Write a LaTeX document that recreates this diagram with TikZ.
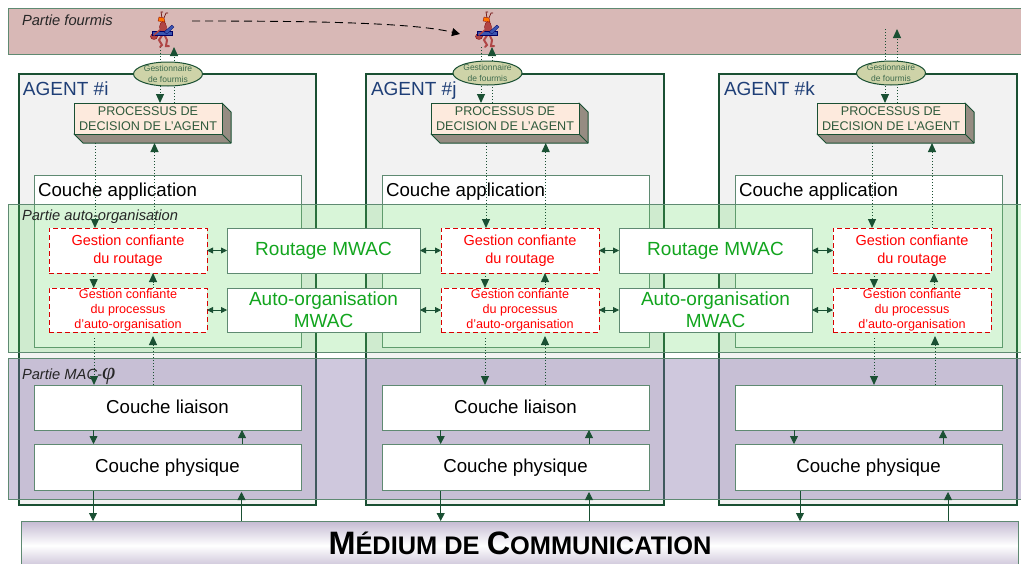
\documentclass[tikz,border=0pt]{standalone}
\usepackage{fontspec}
\setmainfont{Liberation Sans}
\newfontfamily\phifont{Liberation Serif}
\usetikzlibrary{arrows.meta,shapes.geometric}
\definecolor{dkg}{HTML}{1A5033}
\definecolor{bdg}{HTML}{5F8A72}
\definecolor{agentblue}{HTML}{1F3F77}
\definecolor{rosebg}{HTML}{D8B8B6}
\definecolor{procfill}{HTML}{FDEADD}
\definecolor{procside}{HTML}{968C82}
\definecolor{ellfill}{HTML}{CED3A8}
\definecolor{ellt}{HTML}{3F6B4E}
\definecolor{procT}{HTML}{2F5A3C}
\definecolor{mwac}{HTML}{12A51E}
\definecolor{grn}{HTML}{60D860}
\definecolor{pur}{HTML}{7F6AA5}
\definecolor{medc}{HTML}{C4BAD2}
\definecolor{antr}{HTML}{B04545}
\definecolor{antb}{HTML}{3A55B0}
\tikzset{
 x=1pt,y=-1pt,
 every node/.style={inner sep=0pt,outer sep=0pt,align=center},
 band/.style={draw=bdg,line width=1pt},
 agentbox/.style={draw=dkg,line width=1.6pt,fill=black!5},
 lay/.style={draw=bdg,line width=1pt,fill=white,minimum width=267pt,minimum height=45pt,text=black,text height=13pt,text depth=2pt,font=\fontsize{18.7}{21}\selectfont},
 gest/.style={draw=red!85!black,dash pattern=on 5pt off 3pt,line width=1pt,fill=white,minimum width=158pt,minimum height=45pt,text=red},
 mw/.style={draw=bdg,line width=1pt,fill=white,minimum width=193pt,minimum height=45pt,text=mwac,font=\fontsize{19}{22}\selectfont},
 proc/.style={draw=dkg,line width=1pt,fill=procfill,minimum width=148pt,minimum height=31pt,text=procT,font=\fontsize{12.6}{15}\selectfont},
 ges/.style={draw=dkg,line width=1pt,fill=ellfill,ellipse,minimum width=69pt,minimum height=24pt,text=ellt,font=\fontsize{8.5}{10.5}\selectfont},
 ar/.style={-{Triangle[length=8pt,width=8pt]},draw=dkg,line width=0.8pt},
 dar/.style={-{Triangle[length=9pt,width=8pt]},draw=dkg,dotted,line width=1pt},
 sm/.style={{Triangle[length=6pt,width=6pt]}-{Triangle[length=6pt,width=6pt]},draw=dkg,line width=.8pt},
 lbl/.style={anchor=base west,font=\fontsize{14.7}{16}\selectfont\itshape,text=black!85},
 agt/.style={anchor=base west,text=agentblue,font=\fontsize{19}{21}\selectfont},
 capp/.style={anchor=base west,font=\fontsize{18.7}{21}\selectfont},
}
\newcommand{\antfig}[2]{%
 \begin{scope}[shift={(#1,#2)}]
  \draw[black!60!red,line width=.6pt] (0,-14)--(-1,-20)--(1,-20) (2,-14)--(4,-19)--(6,-19);
  \draw[antr,line width=2pt,line cap=round] (1,2)--(-3,8)--(0,13)--(-2,15) (2,2)--(5,8)--(4,14)--(7,14);
  \fill[antr,draw=black!50!red,line width=.3pt] (1,-5) ellipse (3.5 and 5.5);
  \fill[antr,draw=black!50!red,line width=.3pt] (-8,4.5) ellipse (3.5 and 3);
  \fill[antr] (2,-1) ellipse (3.5 and 4);
  \fill[orange!90!red,draw=black!50!red,line width=.3pt] (-4,-11) -- (-3,-15) -- (2,-14) -- (3,-10) -- cycle;
  \fill[antb,draw=blue!40!black,line width=.3pt] (-10,-1) rectangle (10,3);
  \fill[antb,draw=blue!40!black,line width=.3pt] (2,0)--(10,-7)--(12,-5)--(5,2)--cycle;
  \draw[antr,line width=1.5pt,line cap=round] (-1,-3)--(-8,3);
 \end{scope}}
\begin{document}
\begin{tikzpicture}
\useasboundingbox (0,0) rectangle (1021,563);
\fill[white] (0,0) rectangle (1021,563);
% top band
\draw[band,fill=rosebg] (1030,8) -- (8.5,8) -- (8.5,54) -- (1030,54);
\node[lbl] (pf) at (22,25) {Partie fourmis};
% agents
\draw[agentbox] (19,74) rectangle (316,505);
\draw[agentbox] (366,74) rectangle (664,505);
\draw[agentbox] (719,74) rectangle (1017,505);
\node[agt] (ai) at (23,95) {AGENT \#i};
\node[agt] (aj) at (371,95) {AGENT \#j};
\node[agt] (ak) at (724,95) {AGENT \#k};
% application layers
\foreach \lx in {34,382,735}{
  \draw[draw=bdg,line width=1pt,fill=white] (\lx,175) rectangle ++(267,172.5);
}
\node[capp] (ca1) at (38,196) {Couche application};
\node[capp] (ca2) at (386,196) {Couche application};
\node[capp] (ca3) at (739,196) {Couche application};
% translucent bands
\draw[band,fill=grn,fill opacity=.24] (1030,204) -- (8.5,204) -- (8.5,352) -- (1030,352);
\draw[band,fill=pur,fill opacity=.37] (1030,358) -- (8.5,358) -- (8.5,499.5) -- (1030,499.5);
\node[lbl] (pa) at (22,220.5) {Partie auto-organisation};
\node[lbl] (pm) at (22,379) {Partie MAC-{\phifont\itshape\fontsize{24}{24}\selectfont φ}};
% processus
\foreach \n/\px in {1/74,2/431,3/817}{
  \draw[dkg,line width=1pt,fill=procside,line join=round] (\px,134) -- (\px+148,134) -- (\px+148,103) -- (\px+157,112) -- (\px+157,143) -- (\px+9,143) -- cycle;
  \draw[dkg,line width=1pt] (\px+148,134) -- (\px+157,143);
  \node[proc,anchor=north west] (p\n) at (\px,103) {PROCESSUS DE\\DECISION DE L’AGENT};
}
% boxes
\foreach \n/\gx in {1/49,2/441,3/833}{
  \node[gest,anchor=north west,font=\fontsize{14.5}{17.5}\selectfont] (gr\n) at (\gx,228) {Gestion confiante\\du routage};
  \node[gest,anchor=north west,minimum height=44pt,font=\fontsize{12.6}{15}\selectfont] (gp\n) at (\gx,288) {Gestion confiante\\du processus\\d’auto-organisation};
}
\foreach \n/\mx in {1/227,2/619}{
  \node[mw,anchor=north west] (mr\n) at (\mx,228) {Routage MWAC};
  \node[mw,anchor=north west,minimum height=44pt] (ma\n) at (\mx,288) {Auto-organisation\\MWAC};
}
\node[lay,anchor=north west] (l1) at (34,385) {Couche liaison};
\node[lay,anchor=north west] (l2) at (382,385) {Couche liaison};
\node[lay,anchor=north west] (l3) at (735,385) {};
\node[lay,anchor=north west,minimum height=46pt,text depth=1.5pt] (f1) at (34,444) {Couche physique};
\node[lay,anchor=north west,minimum height=46pt,text depth=1.5pt] (f2) at (382,444) {Couche physique};
\node[lay,anchor=north west,minimum height=46pt,text depth=1.5pt] (f3) at (735,444) {Couche physique};
% medium
\draw[draw=bdg,line width=1pt,top color=medc,bottom color=medc,middle color=white] (21,521) rectangle (1018,570);
\node[font=\bfseries,text=black] (med) at (520,543) {\fontsize{32.4}{32}\selectfont M\fontsize{25.4}{32}\selectfont ÉDIUM DE \fontsize{32.4}{32}\selectfont C\fontsize{25.4}{32}\selectfont OMMUNICATION};
% connectors above processus (under the ants)
\coordinate (ant1) at (163,47);
\coordinate (ant2) at (487,47);
\coordinate (free3) at (891,29);
\coordinate (dst) at (460,34);
\coordinate (dsa) at (192,21);
\foreach \n/\da/\ua/\st in {1/160/174/ant1,2/481/492/ant2,3/885/897/free3}{
  \draw[dar] (\st -| \da,0) -- (p\n.north -| \da,0);
  \draw[dar] (p\n.north -| \ua,0) -- (\st -| \ua,0);
}
% ants
\antfig{162}{32}
\antfig{487}{32}
\draw[black,line width=.9pt,dash pattern=on 8pt off 5pt,-{Triangle[length=8pt,width=8pt]}] (dsa) .. controls (300,21) and (410,22) .. (dst);
\node[ges] (e1) at (168,74) {Gestionnaire\\de fourmis};
\node[ges] (e2) at (487.5,73) {Gestionnaire\\de fourmis};
\node[ges] (e3) at (891,73) {Gestionnaire\\de fourmis};
% vertical links
\foreach \n/\a/\b/\c/\d/\e/\f in {1/95/154.5/93.7/153/94/153,2/486/545.7/485/545/485/545,3/872/932/874/934/874/935}{
  \draw[dar] ([yshift=-9pt]p\n.south -| \a,0) -- (gr\n.north -| \a,0);
  \draw[dar] (gr\n.north -| \b,0) -- ([yshift=-9pt]p\n.south -| \b,0);
  \draw[dar] (gr\n.south -| \c,0) -- (gp\n.north -| \c,0);
  \draw[dar] (gp\n.north -| \d,0) -- (gr\n.south -| \d,0);
  \draw[dar] ([yshift=-6pt]gp\n.south -| \e,0) -- (l\n.north -| \e,0);
  \draw[dar] (l\n.north -| \f,0) -- ([yshift=-4pt]gp\n.south -| \f,0);
}
\foreach \n/\a/\b/\c/\d in {1/93.5/242/93/241.5,2/440.7/589/440.7/589,3/794/943/800/948}{
  \draw[ar] (l\n.south -| \a,0) -- (f\n.north -| \a,0);
  \draw[ar] (f\n.north -| \b,0) -- (l\n.south -| \b,0);
  \draw[ar] ([yshift=-1pt]f\n.south -| \c,0) -- (\c,521);
  \draw[ar] (\d,521) -- ([yshift=-2pt]f\n.south -| \d,0);
}
% double arrows
\draw[sm] (gr1) -- (mr1);
\draw[sm] (mr1) -- (gr2);
\draw[sm] (gr2) -- (mr2);
\draw[sm] (mr2) -- (gr3);
\draw[sm] (gp1) -- (ma1);
\draw[sm] (ma1) -- (gp2);
\draw[sm] (gp2) -- (ma2);
\draw[sm] (ma2) -- (gp3);
\end{tikzpicture}
\end{document}
